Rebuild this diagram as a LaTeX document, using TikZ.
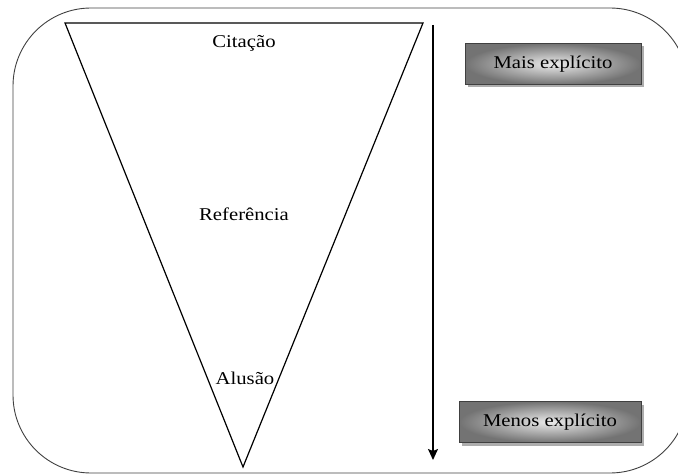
\documentclass[tikz,border=0pt]{standalone}
\usepackage{fontspec}
\setmainfont{Liberation Serif}[FakeStretch=1.15]
\usetikzlibrary{arrows.meta, positioning, shadows}
\tikzset{
  nivel/.style={
    font=\fontsize{18}{21}\selectfont, inner sep=2pt
  },
  grau/.style={
    rectangle, draw=gray!50!black, line width=0.6pt,
    minimum width=176pt, minimum height=41pt,
    inner color=black!8, outer color=black!55,
    font=\fontsize{18}{21}\selectfont,
    drop shadow={shadow xshift=3pt, shadow yshift=-3pt, fill=gray!80, opacity=0.8}
  },
  seta/.style={
    -{Stealth[length=11pt, width=10pt, inset=2pt]}, line width=1.3pt
  }
}

\begin{document}
\begin{tikzpicture}[
  x=1pt, y=-1pt,
  moldura/.style={draw=black!75, line width=0.9pt, rounded corners=78pt},
  triangulo/.style={draw, line width=1.2pt}
]

\useasboundingbox (0,0) rectangle (678,476);
\clip (0,0) rectangle (678,476);

% Frame
\draw[moldura] (13,8) rectangle (688,473);

% Funnel
\coordinate (topoE) at (65,23);
\coordinate (topoD) at (423,23);
\coordinate (vertice) at (243,467);
\draw[triangulo] (topoE) -- (topoD) -- (vertice) -- cycle;

% Levels
\node[nivel] (citacao) at (244,43) {Citação};
\node[nivel] (referencia) at (244,214) {Referência};
\node[nivel] (alusao) at (245,378) {Alusão};

% Arrow
\coordinate (inicio) at (433,25);
\coordinate (fim) at (433,460);
\draw[seta] (inicio) -- (fim);

% Labels
\node[grau] (mais) at (553,64) {Mais explícito};
\node[grau, minimum width=182pt] (menos) at (550,422) {Menos explícito};

\end{tikzpicture}
\end{document}
